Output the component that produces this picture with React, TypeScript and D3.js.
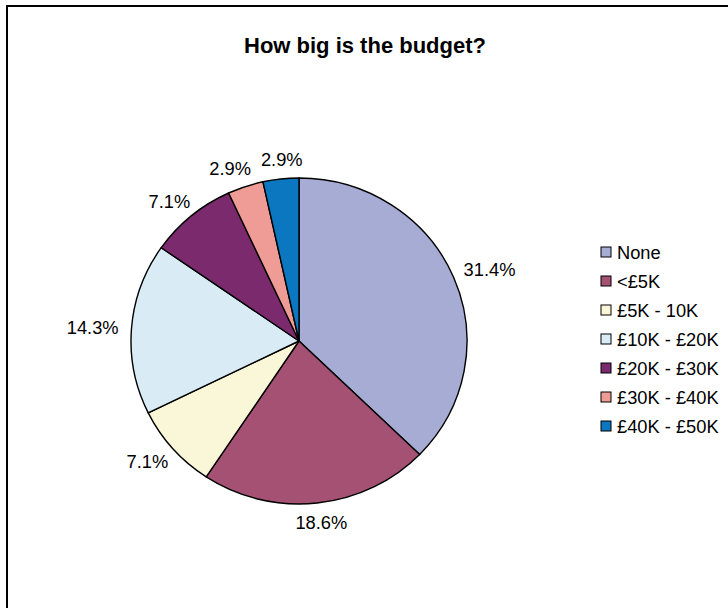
import React from 'react';
import * as d3 from 'd3';

const title = 'How big is the budget?';
const categories = ['None', '<£5K', '£5K - 10K', '£10K - £20K', '£20K - £30K', '£30K - £40K', '£40K - £50K'];
const percents = [31.4, 18.6, 7.1, 14.3, 7.1, 2.9, 2.9];
const colors = ['#A7ACD5', '#A55173', '#FAF6D8', '#D9ECF5', '#7B2A6E', '#EE9C95', '#0A77C0'];

const W = 728;
const H = 608;
const FONT = '"Liberation Sans", Arial, Helvetica, sans-serif';

function measure(text: string, size: number, weight = 'normal'): number {
  if (typeof document === 'undefined') return text.length * size * 0.55;
  const c = document.createElement('canvas');
  const ctx = c.getContext('2d');
  if (!ctx) return text.length * size * 0.55;
  ctx.font = `${weight} ${size}px ${FONT}`;
  return ctx.measureText(text).width;
}

export default function App() {
  const cx = 299;
  const cy = 341;
  const rx = 168;
  const ry = 163;
  const labelSize = 18.3;
  const capH = labelSize * 0.716;
  const gap = 13;

  const pie = d3.pie<number>().sort(null).value((d) => d);
  const arcs = pie(percents);

  const pt = (a: number, sx = rx, sy = ry) => [cx + sx * Math.sin(a), cy - sy * Math.cos(a)];

  const slicePath = (a0: number, a1: number) => {
    const p = d3.path();
    const [x0, y0] = pt(a0);
    const [x1, y1] = pt(a1);
    p.moveTo(cx, cy);
    p.lineTo(x0, y0);
    const large = a1 - a0 > Math.PI ? 1 : 0;
    return `${p.toString()}A${rx},${ry} 0 ${large} 1 ${x1},${y1}Z`;
  };

  const fmt = (v: number) => `${v.toFixed(1)}%`;

  const labels = arcs.map((a) => {
    const t = fmt(a.data);
    const w = measure(t, labelSize);
    const m = (a.startAngle + a.endAngle) / 2;
    const [ex, ey] = pt(m);
    return {
      t,
      w,
      x: ex + Math.sin(m) * (gap + w / 2),
      y: ey - Math.cos(m) * (gap + capH / 2),
    };
  });

  // simple collision relaxation
  const pad = 10;
  for (let it = 0; it < 60; it++) {
    for (let i = 0; i < labels.length; i++) {
      for (let j = i + 1; j < labels.length; j++) {
        const A = labels[i];
        const B = labels[j];
        const minDx = (A.w + B.w) / 2 + pad;
        const dx = B.x - A.x;
        const dy = B.y - A.y;
        if (Math.abs(dx) < minDx && Math.abs(dy) < capH + pad) {
          const push = (minDx - Math.abs(dx)) / 2;
          const s = dx >= 0 ? 1 : -1;
          A.x -= s * push;
          B.x += s * push;
        }
      }
    }
  }

  const legendX = 601;
  const legendY0 = 252;
  const legendStep = 29;
  const legendSize = 18.3;
  const sw = 10;

  return (
    <svg
      width={W}
      height={H}
      style={{ position: 'absolute', left: 0, top: 0, background: '#fff' }}
      fontFamily={FONT}
    >
      <rect x={0} y={0} width={W} height={H} fill="#fff" />
      <rect x={7} y={6} width={W + 40} height={H + 40} fill="#fff" stroke="#000" strokeWidth={2} />
      <text x={365} y={53} textAnchor="middle" fontSize={22} fontWeight="bold" fill="#000">
        {title}
      </text>
      {arcs.map((a, i) => (
        <path
          key={i}
          d={slicePath(a.startAngle, a.endAngle)}
          fill={colors[i]}
          stroke="#000"
          strokeWidth={1.4}
          strokeLinejoin="round"
        />
      ))}
      {labels.map((l, i) => (
        <text key={i} x={l.x} y={l.y + capH / 2} textAnchor="middle" fontSize={labelSize} fill="#000">
          {l.t}
        </text>
      ))}
      {categories.map((c, i) => {
        const y = legendY0 + i * legendStep;
        return (
          <g key={c}>
            <rect x={legendX} y={y - sw / 2} width={sw} height={sw} fill={colors[i]} stroke="#000" strokeWidth={1} />
            <text x={legendX + 16} y={y + legendSize * 0.36} fontSize={legendSize} fill="#000">
              {c}
            </text>
          </g>
        );
      })}
    </svg>
  );
}
